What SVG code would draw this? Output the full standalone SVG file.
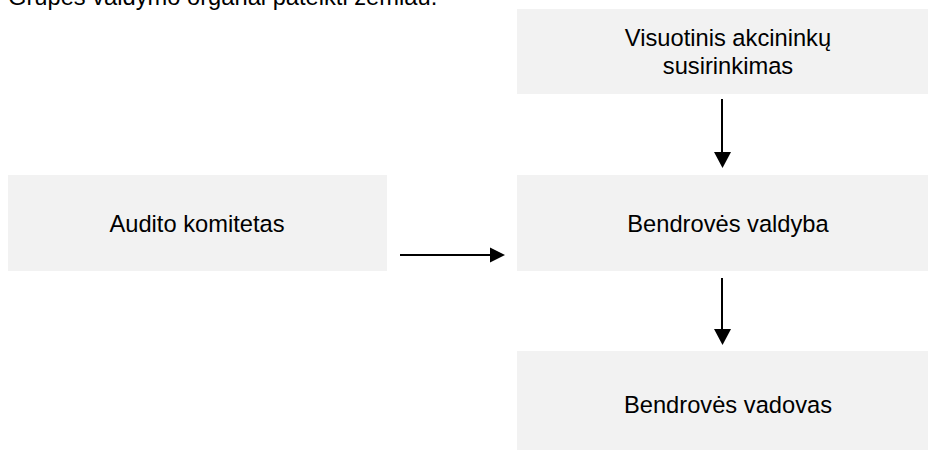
<svg xmlns="http://www.w3.org/2000/svg" width="928" height="450" viewBox="0 0 928 450">
<defs>
<style>
.box{fill:#f2f2f2;}
.t{font-family:"Liberation Sans",Arial,sans-serif;font-size:23.7px;fill:#000;}
.c{text-anchor:middle;}
.ln{stroke:#000;stroke-width:2;fill:none;}
.hd{fill:#000;}
</style>
</defs>
<rect width="928" height="450" fill="#fff"/>
<text class="t" x="8" y="5">Grupės valdymo organai pateikti žemiau.</text>
<g id="node-visuotinis">
<rect class="box" x="517" y="9" width="422" height="85"/>
<text class="t c" x="728" y="46">Visuotinis akcininkų</text>
<text class="t c" x="728" y="74">susirinkimas</text>
</g>
<g id="node-audito">
<rect class="box" x="8" y="175" width="379" height="96"/>
<text class="t c" x="197" y="232">Audito komitetas</text>
</g>
<g id="node-valdyba">
<rect class="box" x="517" y="175" width="422" height="96"/>
<text class="t c" x="728" y="232">Bendrovės valdyba</text>
</g>
<g id="node-vadovas">
<rect class="box" x="517" y="351" width="422" height="110"/>
<text class="t c" x="728" y="413">Bendrovės vadovas</text>
</g>
<g id="connectors">
<line class="ln" x1="722" y1="99" x2="722" y2="153"/>
<polygon class="hd" points="714,152 731,152 722.5,168"/>
<line class="ln" x1="400" y1="255" x2="491" y2="255"/>
<polygon class="hd" points="490,247.5 490,262.5 505,255"/>
<line class="ln" x1="722" y1="278" x2="722" y2="331"/>
<polygon class="hd" points="714,329 731,329 722.5,345"/>
</g>
</svg>
